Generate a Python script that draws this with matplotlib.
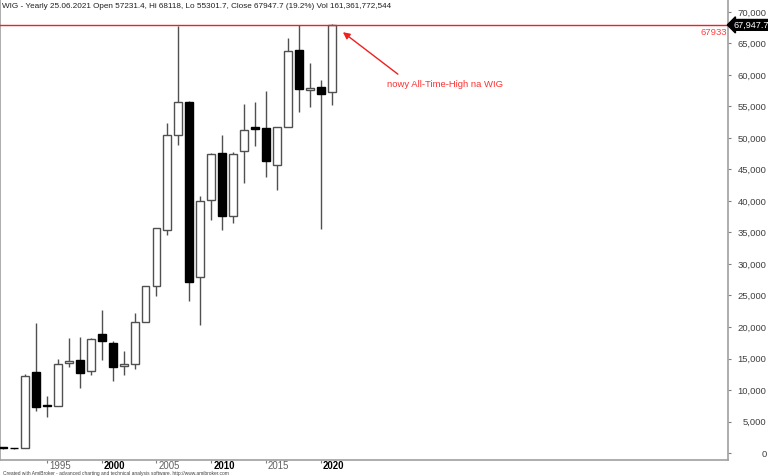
import matplotlib
matplotlib.use("Agg")
import matplotlib.pyplot as plt
import matplotlib.transforms as mtransforms
import numpy as np

plt.rcParams['font.family'] = ['Liberation Sans', 'DejaVu Sans']

years = [1991, 1992, 1993, 1994, 1995, 1996, 1997, 1998, 1999, 2000,
         2001, 2002, 2003, 2004, 2005, 2006, 2007, 2008, 2009, 2010,
         2011, 2012, 2013, 2014, 2015, 2016, 2017, 2018, 2019, 2020, 2021]
opens = [880, 830, 800, 12900, 7550, 7500, 14220, 14800, 13060, 18830,
         17400, 13750, 14170, 20730, 26550, 35370, 50450, 55740, 27870, 40080,
         47590, 37550, 47860, 51670, 51510, 45690, 51770, 63990, 57550, 58070, 57231.4]
highs = [900, 870, 12530, 20580, 9100, 14870, 18200, 18400, 18200, 22640,
         17770, 16190, 22160, 26550, 35700, 52360, 67770, 55900, 40810, 47590,
         50450, 47800, 55340, 55650, 57380, 51770, 65940, 67933, 61880, 59190, 68118]
lows = [620, 600, 780, 6620, 5770, 7500, 13600, 10360, 12430, 14810,
        11370, 12320, 13330, 20730, 24960, 34630, 48860, 24060, 20350, 37010,
        35370, 36430, 42810, 48760, 43740, 41770, 51770, 54150, 54840, 35530, 55301.7]
closes = [800, 790, 12260, 7300, 7450, 14170, 14600, 12640, 18040, 17720,
          13700, 14170, 20730, 26550, 35640, 50450, 55650, 27070, 40020, 47430,
          37550, 47430, 51190, 51400, 46370, 51770, 63730, 57750, 57910, 56990, 67947.7]

ath_level = 67933
last_close = 67947.7
y_ticks = list(range(0, 70001, 5000))
x_ticks = [1995, 2000, 2005, 2010, 2015, 2020]
title = ("WIG - Yearly 25.06.2021 Open 57231.4, Hi 68118, Lo 55301.7, "
         "Close 67947.7 (19.2%) Vol 161,361,772,544")
note = "nowy All-Time-High na WIG"
footer = ("Created with AmiBroker - advanced charting and technical analysis software. "
          "http://www.amibroker.com")

W, H = 768, 476
fig = plt.figure(figsize=(W / 100, H / 100), dpi=100)
fig.patch.set_facecolor('white')
ax = fig.add_axes([0, 16.5 / H, 728 / W, 459.5 / H])

x = np.array(years, dtype=float)
o = np.array(opens); c = np.array(closes); h = np.array(highs); l = np.array(lows)
up = c >= o
wick_col = '#505050'
ax.vlines(x, l, h, color=wick_col, linewidth=1.0, zorder=2)
bottoms = np.minimum(o, c)
heights = np.maximum(np.abs(c - o), 80)
ax.bar(x[up], heights[up], bottom=bottoms[up], width=0.72,
       color='white', edgecolor='#505050', linewidth=1.0, zorder=3)
ax.bar(x[~up], heights[~up], bottom=bottoms[~up], width=0.72,
       color='black', edgecolor='black', linewidth=1.0, zorder=3)

ax.set_xlim(1990.71, 2057.2)
ax.set_ylim(-1030, 71900)

blend = mtransforms.blended_transform_factory(ax.transAxes, ax.transData)

# red ATH line
ax.axhline(ath_level, color='#f02020', linewidth=1.0, zorder=4)
ax.text(0.999, ath_level - 400, str(ath_level), transform=blend,
        ha='right', va='top', color='#ff4040', fontsize=6.8)

# annotation arrow + text
ax.annotate('', xy=(2022.03, 66790), xytext=(2027.05, 60130),
            arrowprops=dict(arrowstyle='-|>', color='#f02020', lw=1.0,
                            mutation_scale=10, shrinkA=0, shrinkB=0))
ax.text(2026.05, 58540, note, color='#ff3030', fontsize=6.8, ha='left', va='center')

# axes styling
ax.spines['top'].set_visible(False)
for s in ['left', 'right', 'bottom']:
    ax.spines[s].set_color('#a0a0a0')
    ax.spines[s].set_linewidth(1.2)

ax.yaxis.tick_right()
ax.set_yticks(y_ticks)
ax.set_yticklabels([f"{v:,}" for v in y_ticks])
ax.tick_params(axis='y', direction='out', length=2.5, width=0.8, color='#808080',
               labelsize=6.8, labelcolor='#404040', pad=25.2)
for lbl in ax.get_yticklabels():
    lbl.set_horizontalalignment('right')

ax.set_xticks(x_ticks)
ax.set_xticklabels([str(v) for v in x_ticks])
ax.tick_params(axis='x', direction='out', length=2.2, width=0.8, color='#808080',
               labelsize=6.9, pad=-1.0)
offset = mtransforms.ScaledTranslation(2 / 100, 0, fig.dpi_scale_trans)
for lbl, v in zip(ax.get_xticklabels(), x_ticks):
    lbl.set_horizontalalignment('left')
    lbl.set_transform(lbl.get_transform() + offset)
    if v % 10 == 0:
        lbl.set_fontweight('bold'); lbl.set_color('black')
    else:
        lbl.set_color('#606060')

# last close tag
ax.text(1.0 + 5 / 728, last_close, f"{last_close:,.1f}", transform=blend,
        ha='left', va='center', color='white', fontsize=6.6, clip_on=False, zorder=6,
        bbox=dict(boxstyle='larrow,pad=0.1', fc='black', ec='black'))

fig.text(2 / W, 1 - 6 / H, title, ha='left', va='center', fontsize=5.9, color='#202020')
fig.text(3 / W, 1 - 473 / H, footer, ha='left', va='center', fontsize=3.5, color='#404040')

fig.savefig('out.png', dpi=100, facecolor='white')
